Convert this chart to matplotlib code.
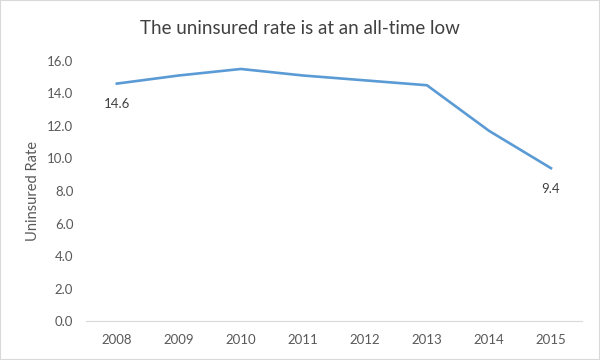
import matplotlib.pyplot as plt
from matplotlib.patches import Rectangle

# Data
years = ['2008', '2009', '2010', '2011', '2012', '2013', '2014', '2015']
rate = [14.6, 15.1, 15.5, 15.1, 14.8, 14.5, 11.7, 9.4]
yticks = [0, 2, 4, 6, 8, 10, 12, 14, 16]

plt.rcParams['font.family'] = ['Lato', 'DejaVu Sans']

fig = plt.figure(figsize=(6, 3.6), dpi=100)
ax = fig.add_axes([0.143, 0.108, 0.827, 0.723])

x = range(len(years))
ax.plot(x, rate, color='#5B9BD5', linewidth=1.9, solid_joinstyle='miter')

# data labels at first and last point
for i in (0, len(years) - 1):
    ax.annotate(f'{rate[i]:.1f}', (i, rate[i]), xytext=(0, -15), textcoords='offset points',
                ha='center', va='center', fontsize=9.5, color='#404040')

ax.set_xlim(-0.5, len(years) - 0.5)
ax.set_ylim(0, 16)
ax.set_xticks(list(x))
ax.set_xticklabels(years)
ax.set_yticks(yticks)
ax.set_yticklabels([f'{v:.1f}' for v in yticks])
ax.tick_params(length=0, labelsize=9.5, colors='#595959', pad=9)

for s in ['top', 'right', 'left']:
    ax.spines[s].set_visible(False)
ax.spines['bottom'].set_color('#D9D9D9')

ax.set_ylabel('Uninsured Rate', fontsize=10.5, color='#595959', labelpad=5)
fig.text(0.5, 0.92, 'The uninsured rate is at an all-time low', ha='center', va='center',
         fontsize=13.5, color='#404040')

fig.patches.append(Rectangle((0, 0), 1, 1, transform=fig.transFigure, fill=False,
                             edgecolor='#D9D9D9', linewidth=1.5))

fig.savefig('out.png', dpi=100)
